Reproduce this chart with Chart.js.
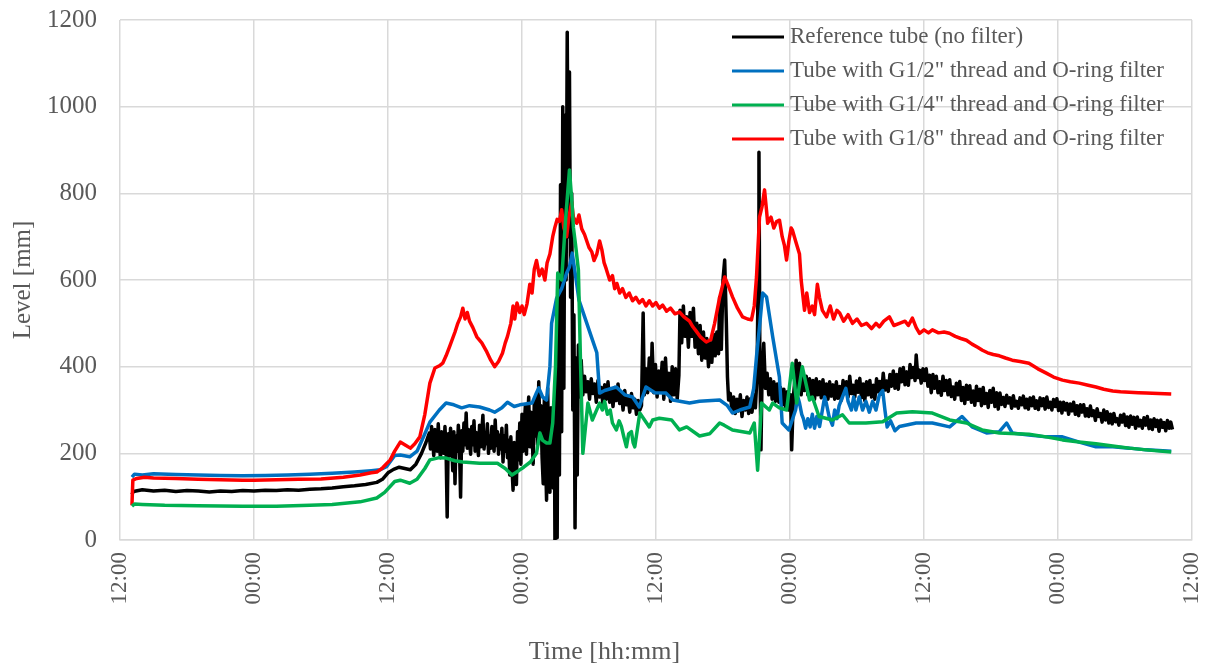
<!DOCTYPE html>
<html>
<head>
<meta charset="utf-8">
<title>Level vs time</title>
<script src="https://cdn.jsdelivr.net/npm/chart.js@4.4.1/dist/chart.umd.min.js"></script>
<style>
  body { margin: 0; background: #ffffff; }
  #wrap { width: 1209px; height: 666px; }
</style>
</head>
<body>
<div id="wrap"><canvas id="myChart" width="1209" height="666"></canvas></div>
<script>
// time in hours from the first 12:00 tick, level in mm
const tickLabels = ["12:00", "00:00", "12:00", "00:00", "12:00", "00:00", "12:00", "00:00", "12:00"];
const seriesNames = [
  "Reference tube (no filter)",
  'Tube with G1/2" thread and O-ring filter',
  'Tube with G1/4" thread and O-ring filter',
  'Tube with G1/8" thread and O-ring filter',
];
const seriesColors = ["#000000", "#0070C0", "#00B050", "#FF0000"];

const refTube = [
  [1.07,105],[1.2,112],[2,116],[3,113],[4,115],[5,112],[6,114],[7,113],[8,111],[9,113],[10,112],[11,114],[12,113],[13,115],[14,114],[15,116],[16,115],[17,117],[18,118],[19,120],[20,123],[21,125],[22,128],[23,133],[23.5,140],[24,155],[24.5,163],[25,168],[25.5,165],[26,162],[26.5,175],[27,200],[27.4,225],
  [27.7,247],[27.8,210],[27.9,262],[28.0,228],[28.1,195],[28.2,255],[28.3,240],[28.4,205],[28.5,268],[28.6,215],[28.7,190],[28.8,250],[28.9,232],[29.0,200],[29.1,262],[29.2,210],[29.3,53],[29.4,245],[29.5,195],[29.6,258],[29.7,222],[29.8,160],[29.9,250],[30.0,130],[30.1,240],[30.2,205],[30.3,265],[30.4,215],[30.5,99],[30.6,252],[30.7,205],[30.8,270],[30.9,220],[31.0,293],[31.1,212],[31.2,255],[31.3,228],
  [31.4,198],[31.5,262],[31.6,220],[31.7,275],[31.8,205],[31.9,248],[32.0,230],[32.1,195],[32.2,265],[32.3,215],[32.4,250],[32.5,288],[32.6,210],[32.7,245],[32.8,222],[32.9,268],[33.0,200],[33.1,240],[33.2,212],[33.3,262],[33.4,228],[33.5,205],[33.6,277],[33.7,218],[33.8,250],[33.9,198],[34.0,242],[34.1,210],[34.2,258],[34.3,180],[34.4,240],[34.5,205],[34.6,265],[34.7,190],[34.8,230],
  [34.9,150],[35.0,238],[35.1,170],[35.2,115],[35.3,225],[35.4,160],[35.5,128],[35.6,250],[35.7,185],[35.8,270],[35.9,175],
  [36.0,290],[36.1,205],[36.2,262],[36.3,310],[36.4,198],[36.5,275],[36.6,330],[36.7,215],[36.8,295],[36.9,250],[37.0,175],[37.1,318],[37.2,240],[37.3,335],[37.4,220],[37.5,365],[37.6,255],[37.7,310],[37.8,190],
  [37.9,130],[38.0,325],[38.1,200],[38.2,92],[38.3,350],[38.4,180],[38.5,110],[38.6,305],[38.7,210],[38.8,120],[38.9,270],
  [38.95,0],[39.05,380],[39.15,5],[39.25,600],[39.35,150],[39.45,820],[39.55,250],[39.65,1000],[39.75,350],[39.85,980],[39.95,600],[40.05,1172],[40.15,700],[40.25,1080],[40.35,560],[40.45,800],[40.55,300],[40.65,520],[40.75,28],[40.85,420],[40.95,150],[41.05,450],[41.15,330],[41.3,415],
  [41.45,335],[41.6,378],[41.75,342],[41.9,365],[42.05,325],[42.2,372],[42.35,338],[42.5,360],[42.65,318],[42.8,368],[42.95,330],[43.1,352],[43.25,312],[43.4,358],[43.55,325],[43.7,365],[43.85,318],[44.0,345],[44.15,308],[44.3,352],[44.45,322],[44.6,360],[44.75,315],[44.9,338],[45.05,300],[45.2,345],[45.35,312],[45.5,330],[45.65,295],[45.8,338],[45.95,305],[46.1,325],[46.25,290],[46.4,322],[46.55,300],
  [46.7,310],[46.85,524],[46.95,335],[47.1,395],[47.25,340],[47.4,420],[47.55,350],[47.65,454],[47.8,340],[47.95,405],[48.1,330],[48.25,390],[48.4,345],[48.55,410],[48.7,325],[48.85,420],[49.0,340],[49.15,385],[49.3,320],[49.45,400],[49.6,335],[49.75,395],[49.9,325],[50.05,380],
  [50.15,530],[50.3,455],[50.45,540],[50.6,470],[50.75,515],[50.9,445],[51.05,525],[51.2,470],[51.35,535],[51.5,445],[51.65,500],[51.8,430],[51.95,495],[52.1,415],[52.25,480],[52.4,420],[52.55,465],[52.7,400],[52.85,455],[53.0,410],[53.15,475],[53.3,425],[53.45,480],[53.6,430],[53.7,560],[53.85,440],
  [54.0,600],[54.15,646],[54.3,500],[54.4,376],[54.5,323],
  [54.65,338],[54.8,300],[54.95,330],[55.1,292],[55.25,325],[55.4,298],[55.55,335],[55.7,285],[55.85,322],[56.0,300],[56.15,330],[56.3,292],[56.45,326],[56.6,295],[56.75,335],[56.9,305],
  [57.05,380],[57.15,620],[57.22,895],[57.3,420],[57.4,208],[57.5,380],[57.65,454],[57.8,350],
  [57.95,385],[58.1,335],[58.25,372],[58.4,325],[58.55,365],[58.7,320],[58.85,360],[59.0,318],[59.15,352],[59.3,312],[59.45,348],[59.6,305],[59.75,342],[59.9,300],[60.05,335],[60.15,208],[60.3,330],[60.45,372],[60.55,415],[60.7,345],[60.85,408],[61.0,335],
  [61.15,385],[61.3,345],[61.45,378],[61.6,335],[61.75,372],[61.9,330],[62.05,368],[62.2,325],[62.35,372],[62.5,335],[62.65,365],[62.8,328],[62.95,370],[63.1,330],[63.25,360],[63.4,325],[63.55,365],[63.7,332],[63.85,358],[64.0,325],
  [64.15,365],[64.3,327],[64.45,354],[64.6,322],[64.75,368],[64.9,338],[65.05,365],[65.2,330],[65.35,378],[65.5,338],[65.65,357],[65.8,330],[65.95,367],[66.1,341],[66.25,373],[66.4,328],[66.55,360],[66.7,322],[66.85,365],[67.0,335],
  [67.15,368],[67.3,330],[67.45,357],[67.6,325],[67.75,372],[67.9,342],[68.05,366],[68.2,337],[68.35,385],[68.5,346],[68.65,367],[68.8,343],[68.95,382],[69.1,355],[69.25,390],[69.4,350],[69.55,382],[69.7,348],[69.85,395],[70.0,365],
  [70.15,398],[70.3,358],[70.45,388],[70.6,357],[70.75,405],[70.9,375],[71.05,398],[71.2,368],[71.3,427],[71.45,375],[71.6,392],[71.75,362],[71.9,395],[72.05,368],[72.2,395],[72.35,355],[72.5,380],[72.65,340],[72.8,382],[72.95,350],
  [73.1,378],[73.25,340],[73.4,365],[73.55,334],[73.7,378],[73.85,345],[74.0,368],[74.15,335],[74.3,370],[74.45,331],[74.6,353],[74.75,325],[74.9,362],[75.05,335],[75.2,366],[75.35,322],[75.5,352],[75.65,315],[75.8,357],[75.95,325],
  [76.1,356],[76.25,318],[76.4,344],[76.55,311],[76.7,355],[76.85,322],[77.0,348],[77.15,310],[77.3,352],[77.45,315],[77.6,338],[77.75,306],[77.9,345],[78.05,318],[78.2,350],[78.35,308],[78.5,340],[78.65,302],
  [78.8,339],[78.95,313],[79.1,329],[79.25,308],[79.4,334],[79.55,316],[79.7,328],[79.85,304],[80.0,333],[80.15,309],[80.3,320],[80.45,304],[80.6,328],[80.75,312],[80.9,332],[81.05,305],[81.2,325],[81.35,302],[81.5,328],[81.65,310],
  [81.8,330],[81.95,304],[82.1,321],[82.25,301],[82.4,328],[82.55,310],[82.7,326],[82.85,302],[83.0,330],[83.15,306],[83.3,318],[83.45,300],[83.6,324],[83.75,308],[83.9,326],[84.05,299],[84.2,318],[84.35,293],[84.5,318],[84.65,300],
  [84.8,315],[84.95,290],[85.1,314],[85.25,298],[85.4,318],[85.55,290],[85.7,310],[85.85,287],[86.0,312],[86.15,295],[86.3,312],[86.45,286],[86.6,303],[86.75,285],[86.9,309],[87.05,287],[87.2,298],[87.35,276],[87.5,303],[87.65,285],
  [87.8,292],[87.95,272],[88.1,300],[88.25,277],[88.4,296],[88.55,270],[88.7,290],[88.85,268],[89.0,292],[89.15,273],[89.3,280],[89.45,265],[89.6,288],[89.75,272],[89.9,290],[90.05,264],[90.2,284],[90.35,260],[90.5,286],[90.65,267],
  [90.8,283],[90.95,258],[91.1,284],[91.25,263],[91.4,276],[91.55,258],[91.7,282],[91.85,265],[92.0,285],[92.15,257],[92.3,277],[92.45,255],[92.6,280],[92.75,262],[92.9,276],[93.05,251],[93.2,277],[93.35,260],[93.5,271],[93.65,252],
  [93.8,276],[93.95,258],[94.1,272],[94.25,255],
];

const halfInch = [
  [1.07,145],[1.3,152],[2,150],[3,153],[5,151],[7,150],[9,149],[11,148],[13,149],[15,150],[17,152],[19,154],[21,157],[22.5,160],[23.3,162],[23.9,170],[24.6,195],[25.1,196],[25.95,192],[26.6,205],[27.3,245],[27.75,272],[28.6,300],[29.2,316],[29.9,312],[30.6,305],[31.3,310],[32.2,307],[33.1,300],[33.55,295],[34.2,305],[34.7,318],[35.3,308],[35.8,312],[36.9,316],[37.3,340],[37.5,351],[37.85,330],[38.2,323],[38.5,400],[38.65,500],[39.1,558],[39.55,580],[40.0,616],[40.25,630],[40.5,662],[40.85,600],[41.1,554],[41.7,508],[42.2,470],[42.7,432],[42.95,339],[43.4,345],[44.45,353],[45.2,335],[45.9,330],[46.5,307],[47.1,353],[47.9,340],[48.9,339],[49.5,323],[51.0,316],[51.9,320],[53.7,323],[54.4,310],[54.85,293],[55.5,300],[56.4,307],[56.75,350],[57.0,423],[57.3,500],[57.55,570],[57.9,561],[58.45,469],[59.05,376],[59.3,270],[59.9,254],
  [60.5,300],[60.7,330],[60.85,316],[61.05,290],[61.2,280],[61.4,258],[61.6,280],[61.8,261],[62.0,290],[62.2,258],[62.4,285],[62.65,262],[62.9,300],[63.1,330],[63.25,316],[63.5,285],[63.8,265],[64.0,300],[64.2,280],[64.4,310],[64.7,330],[65.0,350],[65.2,320],[65.5,300],[65.7,330],[65.9,300],[66.2,330],[66.5,300],[66.8,320],[67.1,295],[67.4,320],[67.7,300],[68.0,335],[68.3,345],[68.5,300],[68.7,261],[69.0,275],[69.4,252],[69.8,262],
  [71.3,270],[72.75,270],[74.3,261],[75.4,285],[76.3,261],[77.6,247],[78.75,250],[79.4,270],[79.9,247],[81.4,242],[82.95,238],[84.4,238],[85.9,226],[87.4,215],[88.9,215],[90.4,212],[91.9,208],[94.14,205],
];

const quarterInch = [
  [1.07,78],[1.3,83],[2,82],[4,80],[7,79],[11,78],[14,78],[17,80],[19,82],[21.5,88],[23,97],[23.7,110],[24.6,135],[25.1,138],[25.95,131],[26.6,140],[27.3,165],[27.75,185],[28.6,190],[29.2,189],[29.98,183],[30.7,180],[32.2,177],[33.8,177],[34.5,165],[35.1,150],[35.7,160],[36.15,168],[36.75,180],[37.3,200],[37.6,247],[37.85,230],[38.2,224],[38.5,224],[38.75,270],[39.0,400],[39.2,616],[39.55,600],[39.9,738],[40.25,854],[40.5,769],[40.6,722],[40.8,680],[41.05,623],[41.25,400],[41.45,200],[41.9,316],[42.3,277],[42.95,316],[43.2,300],[43.4,320],[43.65,290],[43.9,300],[44.1,270],[44.45,254],[44.7,275],[44.9,262],[45.1,240],[45.35,215],[45.55,245],[45.8,250],[45.95,225],[46.1,215],[46.3,250],[46.55,293],[47.4,261],[47.7,277],[48.3,281],[49.4,277],[50.1,254],[50.75,261],[51.9,240],[52.8,245],[53.7,270],[54.1,265],[54.85,254],[56.4,247],[56.8,270],[57.1,161],[57.45,316],[58.15,300],[58.45,316],[59.05,305],[59.7,300],[60.2,408],[60.6,316],[61.1,400],[61.75,323],[62.0,330],[62.6,285],[63.8,277],[64.7,289],[65.3,270],[66.8,270],[68.3,273],[69.55,293],[70.96,296],[72.75,293],[74.3,277],[75.8,270],[77.2,254],[78.75,247],[81.4,244],[82.95,238],[84.4,231],[85.9,226],[87.4,222],[88.9,217],[90.4,212],[91.9,208],[94.14,203],
];

const eighthInch = [
  [1.07,80],[1.15,138],[1.5,142],[2.2,145],[3,143],[5,142],[7,140],[9,139],[11,138],[12,138],[14,139],[16,140],[18,141],[20,145],[21.5,150],[22.5,155],[23,157],[23.5,166],[24.2,185],[24.6,205],[25.1,226],[25.5,220],[26,212],[26.4,222],[26.85,238],[27.3,290],[27.75,362],[28.2,397],[28.6,402],[28.9,408],[29.2,425],[29.5,445],[30,480],[30.25,500],[30.5,515],[30.7,535],[30.9,510],[31.1,525],[31.3,505],[31.6,490],[31.95,469],[32.4,455],[32.85,434],[33.2,415],[33.55,400],[33.9,412],[34.25,431],[34.5,455],[34.7,470],[35.0,500],[35.2,540],[35.35,510],[35.55,547],[35.8,525],[36.0,540],[36.2,520],[36.45,545],[36.7,590],[36.9,570],[37.1,625],[37.3,645],[37.55,610],[37.8,625],[38.05,600],[38.25,640],[38.5,660],[38.75,700],[38.95,722],[39.15,740],[39.35,735],[39.55,762],[39.75,720],[40.0,700],[40.2,745],[40.45,780],[40.6,745],[40.9,731],[41.1,750],[41.35,718],[41.6,705],[41.8,690],[42.0,675],[42.25,665],[42.45,645],[42.7,660],[42.95,690],[43.15,670],[43.35,640],[43.55,625],[43.85,600],[44.1,610],[44.3,580],[44.5,592],[44.75,570],[45.0,580],[45.3,560],[45.6,570],[45.9,552],[46.2,560],[46.5,547],[46.8,555],[47.1,540],[47.4,552],[47.7,540],[48.0,548],[48.3,535],[48.6,542],[48.95,528],[49.3,535],[49.7,522],[50.1,526],[50.5,515],[51.0,505],[51.3,492],[51.6,482],[52.0,468],[52.5,457],[52.9,462],[53.25,500],[53.7,560],[54.15,607],[54.5,585],[54.85,561],[55.3,535],[55.75,515],[56.2,510],[56.55,508],[56.8,540],[57.0,607],[57.27,745],[57.5,770],[57.72,808],[57.9,760],[58.0,731],[58.3,745],[58.55,720],[58.8,735],[59.06,738],[59.3,700],[59.5,680],[59.69,646],[59.9,690],[60.1,720],[60.22,715],[60.5,690],[60.85,660],[61.0,600],[61.3,530],[61.5,570],[61.75,525],[62.0,540],[62.2,520],[62.45,590],[62.64,560],[62.9,530],[63.27,515],[63.6,540],[63.9,510],[64.2,530],[64.45,524],[64.8,505],[65.2,520],[65.6,500],[66.0,510],[66.4,495],[66.85,500],[67.3,488],[67.7,500],[68.0,492],[68.4,505],[68.9,515],[69.3,495],[69.8,500],[70.3,505],[70.6,495],[70.96,512],[71.3,490],[71.6,477],[72.0,485],[72.4,478],[72.75,485],[73.3,478],[73.8,480],[74.27,477],[74.8,470],[75.3,465],[75.8,461],[76.3,452],[76.8,445],[77.23,438],[77.7,432],[78.2,428],[78.75,425],[79.3,420],[79.9,415],[80.6,412],[81.4,408],[82.2,395],[82.95,385],[83.6,376],[84.4,369],[85.1,365],[85.9,362],[86.7,357],[87.4,353],[88.1,348],[88.9,344],[89.6,342],[90.4,341],[91.2,340],[91.9,339],[93.0,338],[94.14,337],
];

const allSeries = [refTube, halfInch, quarterInch, eighthInch];
// green drawn on top, black at the bottom (like the original)
const drawOrder = [4, 3, 1, 2];

const serif = '"Liberation Serif", "Times New Roman", serif';
const textGray = "#595959";
const gridGray = "#d9d9d9";

// legend inside the plot + x axis title centred on the page
const overlayText = {
  id: "overlayText",
  afterDraw(chart) {
    const { ctx, chartArea } = chart;
    ctx.save();
    ctx.font = "23px " + serif;
    ctx.textBaseline = "middle";
    ctx.textAlign = "left";
    chart.data.datasets.forEach((ds, i) => {
      const y = chartArea.top + 17 + i * 34;
      ctx.strokeStyle = ds.borderColor;
      ctx.lineWidth = 3;
      ctx.beginPath();
      ctx.moveTo(chartArea.right - 460, y);
      ctx.lineTo(chartArea.right - 408, y);
      ctx.stroke();
      ctx.fillStyle = textGray;
      ctx.fillText(ds.label, chartArea.right - 402, y);
    });
    ctx.textAlign = "center";
    ctx.font = "26px " + serif;
    ctx.fillText("Time [hh:mm]", chart.width / 2, 652);
    ctx.restore();
  },
};

new Chart("myChart", {
  type: "line",
  data: {
    datasets: allSeries.map((s, i) => ({
      label: seriesNames[i],
      data: s.map((p) => ({ x: p[0], y: p[1] })),
      borderColor: seriesColors[i],
      backgroundColor: seriesColors[i],
      borderWidth: 3.5,
      borderJoinStyle: "round",
      pointRadius: 0,
      tension: 0,
      order: drawOrder[i],
    })),
  },
  options: {
    responsive: false,
    animation: false,
    layout: { padding: { left: 0, right: 17, top: 20, bottom: 0 } },
    plugins: {
      legend: { display: false },
      tooltip: { enabled: false },
    },
    scales: {
      x: {
        type: "linear",
        min: 0,
        max: 96,
        afterFit: (scale) => {
          scale.height = 126;
          scale.paddingLeft = 0;
          scale.paddingRight = 0;
        },
        ticks: {
          stepSize: 12,
          minRotation: 90,
          maxRotation: 90,
          padding: 12,
          color: textGray,
          font: { family: serif, size: 23 },
          callback: (value, index) => tickLabels[index],
        },
        grid: { color: gridGray, lineWidth: 1.5, drawTicks: false },
        border: { color: gridGray, width: 1.5 },
      },
      y: {
        min: 0,
        max: 1200,
        afterFit: (scale) => {
          scale.width = 120;
          scale.paddingTop = 0;
          scale.paddingBottom = 0;
        },
        ticks: {
          stepSize: 200,
          padding: 23,
          color: textGray,
          font: { family: serif, size: 25 },
          callback: (value) => String(value),
        },
        grid: { color: gridGray, lineWidth: 1.5, drawTicks: false },
        border: { display: false },
        title: {
          display: true,
          text: "Level [mm]",
          color: textGray,
          font: { family: serif, size: 25 },
          padding: { top: 8, bottom: 0 },
        },
      },
    },
  },
  plugins: [overlayText],
});
</script>
</body>
</html>
